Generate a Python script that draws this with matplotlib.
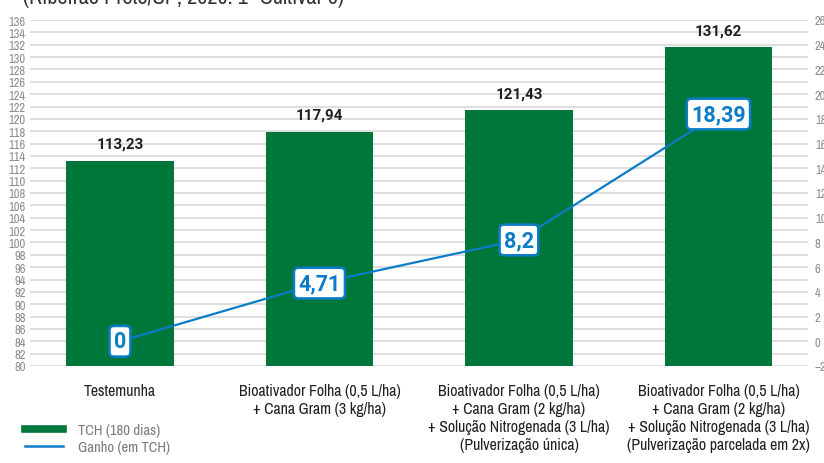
import matplotlib
matplotlib.use('Agg')
import matplotlib.pyplot as plt
from matplotlib import font_manager
from matplotlib.lines import Line2D

# Data
categories = [
    'Testemunha',
    'Bioativador Folha (0,5 L/ha)\n+ Cana Gram (3 kg/ha)',
    'Bioativador Folha (0,5 L/ha)\n+ Cana Gram (2 kg/ha)\n+ Solução Nitrogenada (3 L/ha)\n(Pulverização única)',
    'Bioativador Folha (0,5 L/ha)\n+ Cana Gram (2 kg/ha)\n+ Solução Nitrogenada (3 L/ha)\n(Pulverização parcelada em 2x)',
]
tch = [113.23, 117.94, 121.43, 131.62]
ganho = [0, 4.71, 8.2, 18.39]
left_ticks = list(range(80, 137, 2))
right_ticks = list(range(-2, 27, 2))
series_names = ['TCH (180 dias)', 'Ganho (em TCH)']
title = '(Ribeirão Preto/SP, 2020. 1º Cultivar 6)'

GREEN = '#00773a'
BLUE = '#0a7cc8'
GRID = '#d4d4d4'
TICK = '#8c8c8c'
DARK = '#231f20'

# prefer a condensed face for plain text if one happens to be installed;
# bold labels go to Roboto since the condensed face has no bold
available = {f.name for f in font_manager.fontManager.ttflist}
condensed = sorted(n for n in available if 'Condensed' in n or 'Narrow' in n)
plain = condensed[:1] + [f for f in ('Roboto', 'DejaVu Sans') if f in available]
bold = [f for f in ('Roboto', 'DejaVu Sans') if f in available]
plt.rcParams['font.family'] = plain


def fmt(v):
    return f'{v:g}'.replace('.', ',')


fig = plt.figure(figsize=(8.24, 4.64), dpi=100)
ax = fig.add_axes([30 / 824, 1 - 367 / 464, 778 / 824, 346 / 464])
ax2 = ax.twinx()

x = list(range(len(categories)))
ax.bar(x, tch, width=0.54, color=GREEN, zorder=2)
ax.set_ylim(80, 136)
ax.set_xlim(-0.451, 3.449)
ax.set_yticks(left_ticks)
ax.grid(axis='y', color=GRID, linewidth=1.1, zorder=0)
ax.set_axisbelow(True)
ax.tick_params(axis='y', length=0, pad=3, labelsize=9, labelcolor=TICK)
ax.set_xticks(x)
ax.set_xticklabels(categories, fontsize=11.4, color=DARK, linespacing=1.25)
ax.tick_params(axis='x', length=0, pad=12)
for s in ax.spines.values():
    s.set_visible(False)

for xi, v in zip(x, tch):
    ax.annotate(fmt(v), (xi, v), xytext=(0, 12), textcoords='offset points',
                ha='center', va='center', fontsize=11, fontweight='bold', color=DARK,
                family=bold)

ax2.plot(x, ganho, color=BLUE, linewidth=1.6, zorder=3)
ax2.set_ylim(-2, 26)
ax2.set_yticks(right_ticks)
ax2.tick_params(axis='y', length=0, pad=5, labelsize=9, labelcolor=TICK)
for s in ax2.spines.values():
    s.set_visible(False)

for xi, v in zip(x, ganho):
    ax2.text(xi, v, fmt(v), ha='center', va='center', fontsize=15.5, fontweight='bold',
             color=BLUE, zorder=4, family=bold,
             bbox={'boxstyle': 'round,pad=0.2,rounding_size=0.2', 'facecolor': 'white',
                   'edgecolor': BLUE, 'linewidth': 1.8})

handles = [Line2D([], [], color=GREEN, linewidth=5.5),
           Line2D([], [], color=BLUE, linewidth=1.8)]
leg = fig.legend(handles, series_names, loc='upper left', bbox_to_anchor=(25 / 824, 1 - 424 / 464),
                 frameon=False, fontsize=10.5, handlelength=2.6, handletextpad=1.0,
                 labelspacing=0.2, borderpad=0, borderaxespad=0)
for t in leg.get_texts():
    t.set_color('#7a7a7a')

fig.text(23 / 824, 1 - 4 / 464, title, ha='left', va='baseline', fontsize=16, color='#333333')

fig.savefig('out.png', dpi=100)
